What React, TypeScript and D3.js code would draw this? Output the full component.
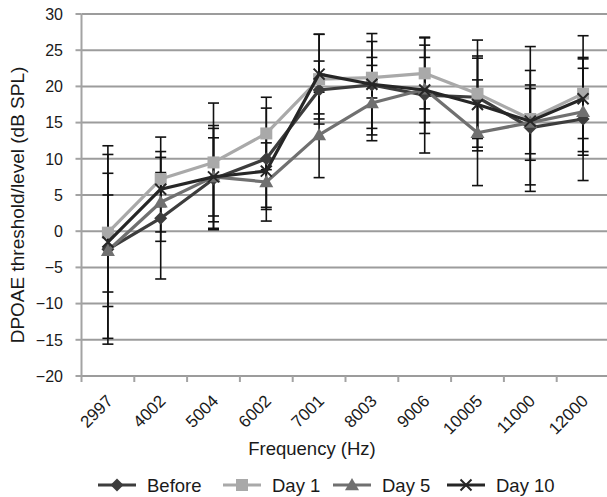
import React from "react";
import * as d3 from "d3";

const freqs = ["2997", "4002", "5004", "6002", "7001", "8003", "9006", "10005", "11000", "12000"];
const yTicks = [-20, -15, -10, -5, 0, 5, 10, 15, 20, 25, 30];

const before = [-2.5, 1.8, 7.2, 10, 19.5, 20.2, 18.8, 18.5, 14.3, 15.5];
const beforeErr = [13.1, 8.4, 7, 7, 4, 6, 8, 5.7, 7.9, 8.5];
const day1 = [-0.2, 7.2, 9.5, 13.5, 21, 21.2, 21.8, 19, 15.5, 19];
const day1Err = [8.2, 3.8, 8.2, 5, 6.2, 2.8, 4.9, 7.4, 10, 8];
const day5 = [-2.7, 4, 7.5, 6.8, 13.3, 17.7, 19.6, 13.6, 15, 16.5];
const day5Err = [7.7, 4.1, 5.4, 5.4, 5.9, 5.2, 6.1, 7.3, 5.2, 6];
const day10 = [-1.5, 5.8, 7.5, 8.3, 21.7, 20.3, 19.5, 17.5, 15.2, 18.3];
const day10Err = [13.3, 7.2, 7.1, 5, 5.5, 7, 4.5, 6.4, 4.5, 5.5];

const seriesNames = ["Before", "Day 1", "Day 5", "Day 10"];
const seriesValues = [before, day1, day5, day10];
const seriesErrors = [beforeErr, day1Err, day5Err, day10Err];
const seriesColors = ["#3d3d3d", "#a9a9a9", "#707070", "#262626"];
const seriesMarkers = ["diamond", "square", "triangle", "x"];

const W = 607;
const H = 497;
const plotLeft = 81.5;
const plotRight = 609.5;
const plotTop = 14;
const plotBottom = 376;
const FONT = "Liberation Sans, Arial, sans-serif";

function Marker({ kind, cx, cy, color }: { kind: string; cx: number; cy: number; color: string }) {
  if (kind === "diamond") {
    const s = 6.5;
    return <path d={`M${cx},${cy - s}L${cx + s},${cy}L${cx},${cy + s}L${cx - s},${cy}Z`} fill={color} />;
  }
  if (kind === "square") {
    const s = 6;
    return <rect x={cx - s} y={cy - s} width={2 * s} height={2 * s} fill={color} />;
  }
  if (kind === "triangle") {
    const s = 7;
    return <path d={`M${cx},${cy - s}L${cx + s},${cy + s * 0.75}L${cx - s},${cy + s * 0.75}Z`} fill={color} />;
  }
  const s = 5.5;
  return (
    <path d={`M${cx - s},${cy - s}L${cx + s},${cy + s}M${cx - s},${cy + s}L${cx + s},${cy - s}`} stroke={color} strokeWidth={2} fill="none" />
  );
}

export default function App() {
  const x = d3.scaleBand<string>().domain(freqs).range([plotLeft, plotRight]);
  const y = d3.scaleLinear().domain([-20, 30]).range([plotBottom, plotTop]);
  const cx = (f: string) => (x(f) as number) + x.bandwidth() / 2;
  const line = d3
    .line<number>()
    .x((_, i) => cx(freqs[i]))
    .y((d) => y(d));

  const legendStarts = [98, 223, 333, 447];
  const legendY = 485;

  return (
    <svg width={W} height={H} style={{ position: "absolute", left: 0, top: 0, background: "#fff" }} fontFamily={FONT}>
      {yTicks.map((t) => (
        <line key={t} x1={plotLeft} x2={plotRight} y1={y(t)} y2={y(t)} stroke="#9c9c9c" strokeWidth={2} />
      ))}
      <line x1={plotLeft} x2={plotLeft} y1={plotTop} y2={plotBottom} stroke="#a3a3a3" strokeWidth={2} />
      {yTicks.map((t) => (
        <g key={"yt" + t}>
          <line x1={plotLeft - 6} x2={plotLeft} y1={y(t)} y2={y(t)} stroke="#a3a3a3" strokeWidth={2} />
          <text x={63} y={y(t)} dy="0.36em" textAnchor="end" fontSize={16} fill="#1a1a1a">
            {t < 0 ? "\u2212" + Math.abs(t) : t}
          </text>
        </g>
      ))}
      {freqs.map((f) => (
        <line key={"xt" + f} x1={x(f) as number} x2={x(f) as number} y1={plotBottom} y2={plotBottom + 6} stroke="#a3a3a3" strokeWidth={2} />
      ))}
      {freqs.map((f) => (
        <text
          key={"xl" + f}
          transform={`translate(${cx(f) + 6},${plotBottom + 26}) rotate(-45)`}
          textAnchor="end"
          fontSize={17}
          fill="#1a1a1a"
        >
          {f}
        </text>
      ))}
      <text x={312} y={455} textAnchor="middle" fontSize={18.5} fill="#1a1a1a">
        Frequency (Hz)
      </text>
      <text transform={`translate(24,${205}) rotate(-90)`} textAnchor="middle" fontSize={19} fill="#1a1a1a">
        DPOAE threshold/level (dB SPL)
      </text>

      {seriesValues.map((vals, si) =>
        vals.map((v, i) => {
          const e = seriesErrors[si][i];
          const px = cx(freqs[i]);
          return (
            <g key={`e${si}-${i}`} stroke="#111" strokeWidth={1.6}>
              <line x1={px} x2={px} y1={y(v + e)} y2={y(v - e)} />
              <line x1={px - 5.5} x2={px + 5.5} y1={y(v + e)} y2={y(v + e)} />
              <line x1={px - 5.5} x2={px + 5.5} y1={y(v - e)} y2={y(v - e)} />
            </g>
          );
        })
      )}

      {seriesValues.map((vals, si) => (
        <g key={"s" + si}>
          <path d={line(vals) as string} fill="none" stroke={seriesColors[si]} strokeWidth={3.2} strokeLinejoin="round" />
          {vals.map((v, i) => (
            <Marker key={i} kind={seriesMarkers[si]} cx={cx(freqs[i])} cy={y(v)} color={seriesColors[si]} />
          ))}
        </g>
      ))}

      {seriesNames.map((n, si) => {
        const x0 = legendStarts[si];
        return (
          <g key={"lg" + n}>
            <line x1={x0} x2={x0 + 38} y1={legendY} y2={legendY} stroke={seriesColors[si]} strokeWidth={3.2} />
            <Marker kind={seriesMarkers[si]} cx={x0 + 19} cy={legendY} color={seriesColors[si]} />
            <text x={x0 + 49} y={legendY} dy="0.36em" fontSize={18.5} fill="#1a1a1a">
              {n}
            </text>
          </g>
        );
      })}
    </svg>
  );
}
